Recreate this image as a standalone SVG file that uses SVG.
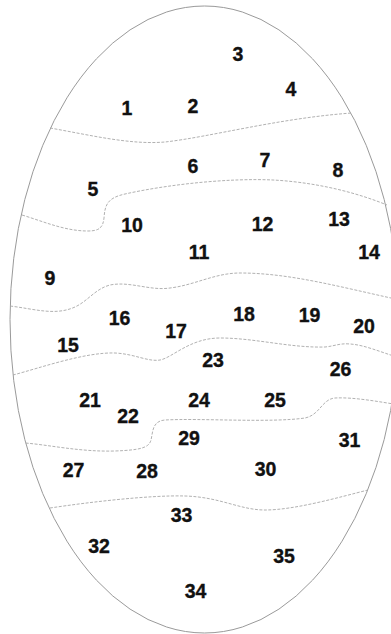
<svg xmlns="http://www.w3.org/2000/svg" width="391" height="634" viewBox="0 0 391 634">
<style>
.outline{fill:#fff;stroke:#9a9a9a;stroke-width:1}
.div{fill:none;stroke:#a8a8a8;stroke-width:0.9;stroke-dasharray:3 1.5}
.lbl{font-family:"Liberation Sans",Arial,sans-serif;font-weight:bold;font-size:19.5px;fill:#111;stroke:#111;stroke-width:0.35;text-anchor:middle}
</style>
<rect width="391" height="634" fill="#fff"/>
<ellipse class="outline" cx="204.5" cy="319.5" rx="194.5" ry="313.5"/>
<g id="connectors">
<path class="div" d="M50,128 C 90,135 130,145 165,142 C 210,137 280,118 352,113"/>
<path class="div" d="M22,215 C 45,222 65,231 88,231 C 100,231 103,227 104,218 C 105,205 107,198 125,194 C 170,184 230,178 273,180 C 310,182 350,190 387,205"/>
<path class="div" d="M10,306 C 35,309 55,316 75,307 C 88,301 95,289 110,285 C 130,281 150,291 170,288 C 195,285 215,273 240,273 C 290,273 340,287 400,300"/>
<path class="div" d="M13,375 C 40,368 85,352 115,353 C 135,354 148,362 160,360 C 172,358 190,338 220,338 C 255,338 290,348 325,347 C 335,346 340,343 350,344 C 365,345 380,352 400,358"/>
<path class="div" d="M400,405 C 380,402 355,397 335,398 C 322,399 320,415 305,418 C 270,423 200,418 165,420 C 152,421 153,432 151,440 C 149,448 140,450 115,451 C 80,452 50,445 25,443"/>
<path class="div" d="M50,508 C 90,502 150,495 185,496 C 220,497 240,510 265,510 C 295,510 340,497 368,490"/>
</g>
<g id="n1"><text class="lbl" x="127" y="114.5">1</text></g>
<g id="n2"><text class="lbl" x="193" y="112.5">2</text></g>
<g id="n3"><text class="lbl" x="238" y="60.5">3</text></g>
<g id="n4"><text class="lbl" x="291" y="95.5">4</text></g>
<g id="n5"><text class="lbl" x="93" y="195.5">5</text></g>
<g id="n6"><text class="lbl" x="193" y="172.5">6</text></g>
<g id="n7"><text class="lbl" x="265" y="166.5">7</text></g>
<g id="n8"><text class="lbl" x="338" y="177">8</text></g>
<g id="n9"><text class="lbl" x="50" y="284.5">9</text></g>
<g id="n10"><text class="lbl" x="132" y="231.5">10</text></g>
<g id="n11"><text class="lbl" x="199" y="258.5">11</text></g>
<g id="n12"><text class="lbl" x="262.5" y="230.5">12</text></g>
<g id="n13"><text class="lbl" x="339" y="226">13</text></g>
<g id="n14"><text class="lbl" x="369" y="258.5">14</text></g>
<g id="n15"><text class="lbl" x="68" y="351.5">15</text></g>
<g id="n16"><text class="lbl" x="119.5" y="324.5">16</text></g>
<g id="n17"><text class="lbl" x="176" y="337.5">17</text></g>
<g id="n18"><text class="lbl" x="244" y="320.5">18</text></g>
<g id="n19"><text class="lbl" x="309.5" y="321.5">19</text></g>
<g id="n20"><text class="lbl" x="364" y="332.5">20</text></g>
<g id="n21"><text class="lbl" x="90" y="407">21</text></g>
<g id="n22"><text class="lbl" x="128" y="423">22</text></g>
<g id="n23"><text class="lbl" x="213" y="366.5">23</text></g>
<g id="n24"><text class="lbl" x="199" y="407">24</text></g>
<g id="n25"><text class="lbl" x="275" y="407">25</text></g>
<g id="n26"><text class="lbl" x="340.5" y="375.5">26</text></g>
<g id="n27"><text class="lbl" x="73.5" y="477">27</text></g>
<g id="n28"><text class="lbl" x="147" y="478">28</text></g>
<g id="n29"><text class="lbl" x="189" y="444.5">29</text></g>
<g id="n30"><text class="lbl" x="265.5" y="476">30</text></g>
<g id="n31"><text class="lbl" x="349.5" y="446.5">31</text></g>
<g id="n32"><text class="lbl" x="99" y="553">32</text></g>
<g id="n33"><text class="lbl" x="181.5" y="521.5">33</text></g>
<g id="n34"><text class="lbl" x="195.5" y="598">34</text></g>
<g id="n35"><text class="lbl" x="284" y="563">35</text></g>
</svg>
